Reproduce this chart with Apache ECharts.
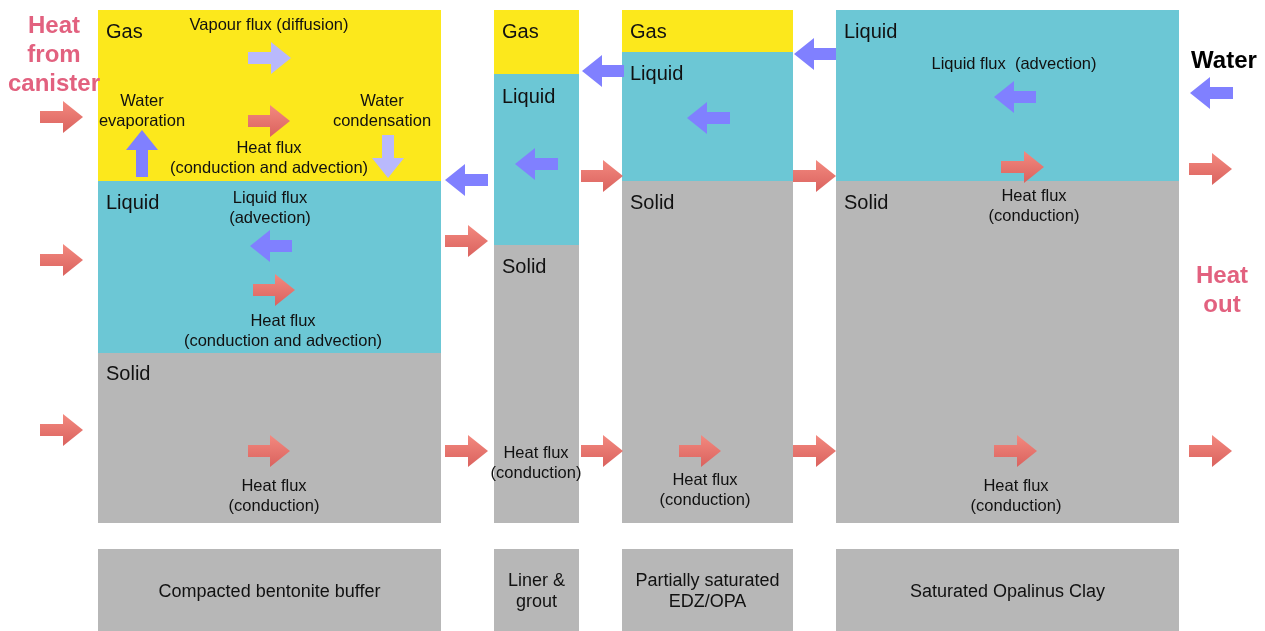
<!DOCTYPE html>
<html>
<head>
<meta charset="utf-8">
<script src="https://cdn.jsdelivr.net/npm/echarts@6/dist/echarts.min.js"></script>
<style>html,body{margin:0;padding:0;background:#fff;}#main{width:1265px;height:631px;}</style>
</head>
<body>
<div id="main"></div>
<script>
// ---- Data (diagram units = pixels of the reference) ----
// layers: [x0, x1, yTop, yBottom]
var gasLayers = [[98,441,10,181],[494,579,10,74],[622,793,10,52]];
var liquidLayers = [[98,441,181,353],[494,579,74,245],[622,793,52,181],[836,1179,10,181]];
var solidLayers = [[98,441,353,523],[494,579,245,523],[622,793,181,523],[836,1179,181,523]];
var materialBoxes = [[98,441,549,631],[494,579,549,631],[622,793,549,631],[836,1179,549,631]];
var materialNames = ['Compacted bentonite buffer','Liner &\ngrout','Partially saturated\nEDZ/OPA','Saturated Opalinus Clay'];

// horizontal arrows: [xTail, xHead, y]
var heatArrows = [
  [40,83,117],[40,83,260],[40,83,430],
  [248,290,121],[253,295,290],[248,290,451],
  [445,488,241],[445,488,451],
  [581,623,176],[581,623,451],
  [679,721,451],
  [793,836,176],[793,836,451],
  [1001,1044,167],[994,1037,451],
  [1189,1232,169],[1189,1232,451]
];
var liquidArrows = [
  [292,250,246],[488,445,180],[558,515,164],[624,582,71],
  [730,687,118],[836,794,54],[1036,994,97],[1233,1190,93]
];
// vertical arrows: [x, yTail, yHead]
var evapArrows = [[142,177,130]];
var vapourHArrows = [[248,291,58]];
var vapourVArrows = [[388,135,178]];

// phase labels: [x, y, text]
var phaseLabels = [
  [106,32,'Gas'],[106,203,'Liquid'],[106,374,'Solid'],
  [502,32,'Gas'],[502,97,'Liquid'],[502,267,'Solid'],
  [630,32,'Gas'],[630,74,'Liquid'],[630,203,'Solid'],
  [844,32,'Liquid'],[844,203,'Solid']
];
// flux labels: [xCenter, yCenter, text]
var fluxLabels = [
  [269,25,'Vapour flux (diffusion)'],
  [142,111,'Water\nevaporation'],
  [382,111,'Water\ncondensation'],
  [269,158,'Heat flux\n(conduction and advection)'],
  [270,208,'Liquid flux\n(advection)'],
  [283,331,'Heat flux\n(conduction and advection)'],
  [274,496,'Heat flux\n(conduction)'],
  [536,463,'Heat flux\n(conduction)'],
  [705,490,'Heat flux\n(conduction)'],
  [1014,64,'Liquid flux  (advection)'],
  [1034,206,'Heat flux\n(conduction)'],
  [1016,496,'Heat flux\n(conduction)']
];
var heatLabels = [[54,55,'Heat\nfrom\ncanister'],[1222,291,'Heat\nout']];
var waterLabels = [[1224,61,'Water']];

// ---- Rendering ----
var FONT = '"Liberation Sans", Arial, Helvetica, sans-serif';
var COL = {gas:'#FCE81C', liquid:'#6CC7D5', solid:'#B7B7B7', blue:'#8080FF', lav:'#B9B9FC', pink:'#E2617F'};

function rectSeries(data, color) {
  return {
    type:'custom', data:data, silent:true,
    renderItem:function(params, api){
      var p0 = api.coord([api.value(0), api.value(2)]);
      var p1 = api.coord([api.value(1), api.value(3)]);
      return {type:'rect', shape:{x:p0[0], y:p0[1], width:p1[0]-p0[0], height:p1[1]-p0[1]}, style:{fill:color}};
    }
  };
}

function arrowPoly(t, h) {
  var dx = h[0]-t[0], dy = h[1]-t[1];
  var L = Math.sqrt(dx*dx+dy*dy);
  var ux = dx/L, uy = dy/L, nx = -uy, ny = ux;
  var hl = Math.min(20, L*0.48), hh = 16, sh = 6;
  var bx = h[0]-ux*hl, by = h[1]-uy*hl;
  return [
    [t[0]+nx*sh, t[1]+ny*sh],
    [bx+nx*sh, by+ny*sh],
    [bx+nx*hh, by+ny*hh],
    [h[0], h[1]],
    [bx-nx*hh, by-ny*hh],
    [bx-nx*sh, by-ny*sh],
    [t[0]-nx*sh, t[1]-ny*sh]
  ];
}

function hArrowSeries(data, fill) {
  return {
    type:'custom', data:data, silent:true,
    renderItem:function(params, api){
      var t = api.coord([api.value(0), api.value(2)]);
      var h = api.coord([api.value(1), api.value(2)]);
      return {type:'polygon', shape:{points:arrowPoly(t,h)}, style:{fill:fill}};
    }
  };
}
function vArrowSeries(data, fill) {
  return {
    type:'custom', data:data, silent:true,
    renderItem:function(params, api){
      var t = api.coord([api.value(0), api.value(1)]);
      var h = api.coord([api.value(0), api.value(2)]);
      return {type:'polygon', shape:{points:arrowPoly(t,h)}, style:{fill:fill}};
    }
  };
}

function textSeries(data, opts) {
  return {
    type:'custom', data:data, silent:true, z:10,
    renderItem:function(params, api){
      var d = data[params.dataIndex];
      var p = api.coord([d[0], d[1]]);
      return {type:'text', x:p[0], y:p[1], style:{
        text:d[2], fill:opts.color, fontSize:opts.size, fontFamily:FONT,
        fontWeight:opts.weight||'normal', lineHeight:opts.lh,
        align:opts.align||'center', verticalAlign:'middle'
      }};
    }
  };
}

var materialLabelData = materialBoxes.map(function(b,i){ return [(b[0]+b[1])/2, 592, materialNames[i]]; });

var heatGrad = new echarts.graphic.LinearGradient(0,0,0,1,[{offset:0,color:'#F3897F'},{offset:1,color:'#DA625E'}]);

var option = {
  animation:false,
  grid:{left:0,right:0,top:0,bottom:0},
  xAxis:{type:'value', min:0, max:1265, show:false},
  yAxis:{type:'value', min:0, max:631, inverse:true, show:false},
  series:[
    rectSeries(gasLayers, COL.gas),
    rectSeries(liquidLayers, COL.liquid),
    rectSeries(solidLayers, COL.solid),
    rectSeries(materialBoxes, COL.solid),
    hArrowSeries(heatArrows, heatGrad),
    hArrowSeries(liquidArrows, COL.blue),
    vArrowSeries(evapArrows, COL.blue),
    hArrowSeries(vapourHArrows, COL.lav),
    vArrowSeries(vapourVArrows, COL.lav),
    textSeries(phaseLabels, {color:'#111', size:20, lh:24, align:'left'}),
    textSeries(fluxLabels, {color:'#111', size:16.5, lh:20}),
    textSeries(materialLabelData, {color:'#111', size:18, lh:21}),
    textSeries(heatLabels, {color:COL.pink, size:24, lh:29, weight:'bold'}),
    textSeries(waterLabels, {color:'#000', size:24, lh:28, weight:'bold'})
  ]
};
var chart = echarts.init(document.getElementById('main'), null, {renderer:'canvas'});
chart.setOption(option);
</script>
</body>
</html>
